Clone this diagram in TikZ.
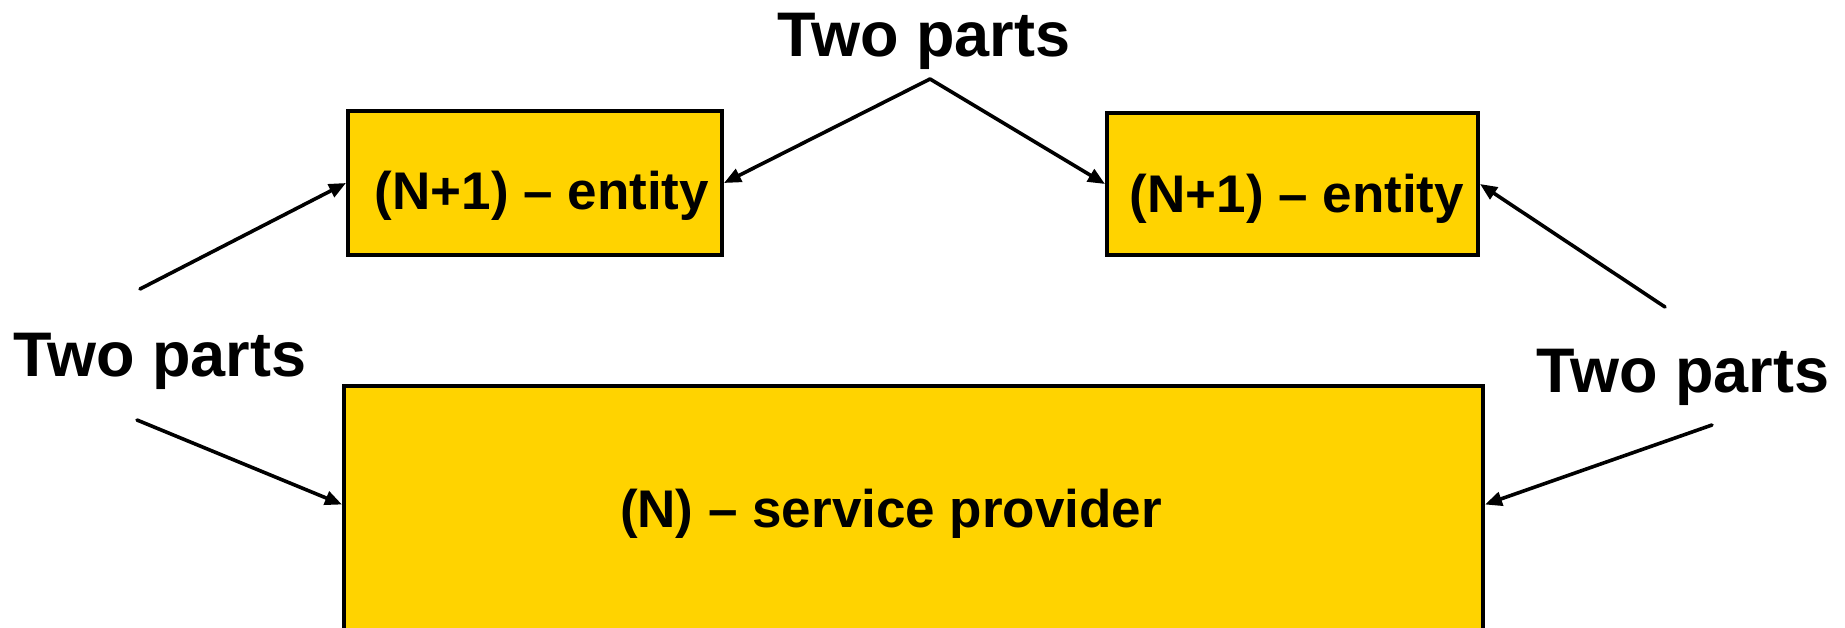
\documentclass[tikz,border=0pt]{standalone}
\usepackage{fontspec}
\setmainfont{Liberation Sans}
\usetikzlibrary{arrows.meta}
\definecolor{boxgold}{RGB}{255,211,0}
\begin{document}
\begin{tikzpicture}[x=1pt,y=-1pt,
  boxstyle/.style={draw=black,line width=4pt,fill=boxgold,inner sep=0pt},
  bigtxt/.style={font=\fontsize{63}{63}\selectfont\bfseries,inner sep=0pt,anchor=base},
  boxtxt/.style={font=\fontsize{53}{53}\selectfont\bfseries,inner sep=0pt,anchor=base},
  conn/.style={line width=3.6pt,line cap=round,-{Triangle[length=17pt,width=14pt]}}]
\useasboundingbox (0,0) rectangle (1845,627);
\node[boxstyle,minimum width=374pt,minimum height=144pt] (e1) at (535,183) {};
\node[boxstyle,minimum width=371pt,minimum height=142pt] (e2) at (1292.5,184) {};
\node[boxstyle,minimum width=1139pt,minimum height=274pt] (sp) at (913.5,523) {};
\node[boxtxt] (t1) at (542,209) {(N+1) – entity};
\node[boxtxt] (t2) at (1297,212) {(N+1) – entity};
\node[boxtxt] (t3) at (891,527) {(N) – service provider};
\node[bigtxt] (ltop) at (924,56.5) {Two parts};
\node[bigtxt] (lleft) at (160,376.5) {Two parts};
\node[bigtxt] (lright) at (1683,392) {Two parts};
\coordinate (apex) at (930,79);
\coordinate (lu) at (140,289);
\coordinate (ll) at (137,420);
\coordinate (ru) at (1665,307);
\coordinate (rl) at (1712,425);
\draw[conn] (apex) -- (e1.east);
\draw[conn] (apex) -- (e2.west);
\draw[conn] (lu) -- (e1.west);
\draw[conn] (ll) -- ([yshift=1.5pt]sp.west |- 0,506);
\draw[conn] (ru) -- (e2.east);
\draw[conn] (rl) -- ([yshift=1.5pt]sp.east |- 0,506);
\end{tikzpicture}
\end{document}
